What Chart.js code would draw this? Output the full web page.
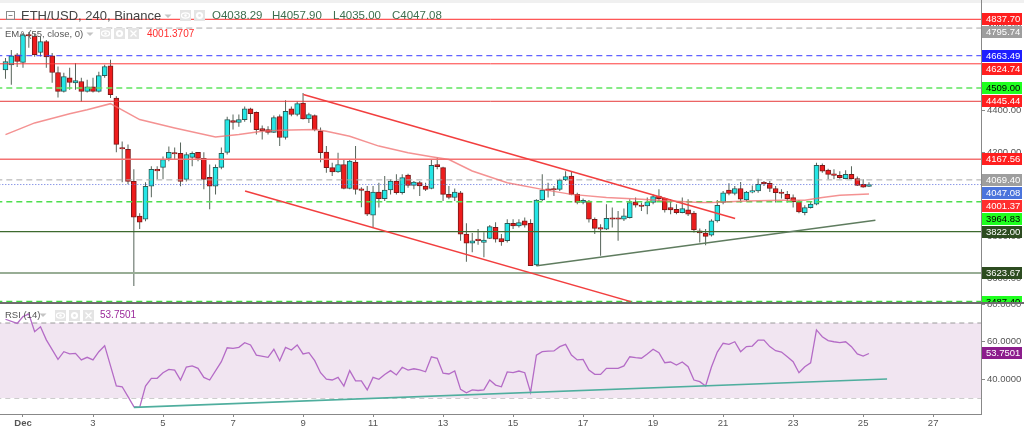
<!DOCTYPE html>
<html>
<head>
<meta charset="utf-8">
<script src="https://cdn.jsdelivr.net/npm/chart.js@4.4.1/dist/chart.umd.min.js"></script>
<style>
  html, body { margin: 0; padding: 0; background: #fff; overflow: hidden; }
  #wrap { width: 1024px; height: 429px; }
  canvas { display: block; }
</style>
</head>
<body>
<div id="wrap">
  <canvas id="main" width="1024" height="302"></canvas>
  <canvas id="rsi" width="1024" height="127"></canvas>
</div>
<script>
// ETH/USD 4h candles, bar 0 = Dec 1 00:00, first bar = Nov 30 12:00
const firstBar = -3;
const opens = [4596,4620,4668,4631,4763,4758,4679,4731,4663,4583,
  4493,4558,4533,4540,4493,4515,4493,4568,4615,4461,
  4224,4215,4062,3896,3881,4039,4120,4129,4172,4198,
  4196,4072,4177,4201,4172,4081,4039,4129,4201,4353,
  4344,4358,4409,4393,4315,4310,4297,4372,4272,4409,
  4382,4437,4361,4377,4302,4202,4128,4107,4143,4028,
  4154,4022,4016,3900,4011,3980,4021,4064,4008,4092,
  4043,4056,4040,4028,4143,4128,4000,3985,4008,3810,
  3767,3786,3770,3789,3842,3789,3778,3862,3849,3873,
  3862,3662,3973,4024,4024,4024,4069,4088,4000,3961,
  3968,3881,3838,3834,3885,3885,3881,3889,3964,3949,
  3945,3961,3992,3981,3937,3929,3913,3926,3910,3825,
  3815,3805,3873,3961,4021,4005,4028,3973,4011,4016,
  4056,4053,4028,4011,4000,3985,3964,3913,3937,3953,
  4139,4116,4096,4091,4075,4096,4075,4048,4038.29];
const highs = [4653,4691,4677,4772,4777,4768,4755,4739,4677,4612,
  4582,4606,4629,4558,4548,4558,4587,4620,4644,4469,
  4253,4239,4120,3910,4058,4134,4134,4181,4229,4224,
  4248,4201,4205,4202,4201,4143,4143,4224,4372,4382,
  4382,4421,4415,4397,4329,4326,4377,4382,4450,4421,
  4445,4485,4390,4382,4320,4231,4151,4199,4167,4167,
  4231,4034,4040,4040,4056,4088,4072,4096,4096,4099,
  4064,4064,4056,4167,4175,4132,4040,4028,4016,3862,
  3815,3834,3819,3853,3867,3810,3881,3881,3881,3889,
  3881,3977,4096,4056,4040,4075,4111,4111,4008,3980,
  3973,3889,3857,3953,3937,3921,3932,3977,3985,3961,
  3985,4000,4024,3985,3977,3953,3985,3977,3921,3837,
  3834,3881,3973,4016,4053,4040,4059,4016,4043,4075,
  4064,4064,4040,4024,4016,4000,3973,3948,3968,4151,
  4148,4123,4120,4111,4116,4135,4085,4072,4057.90];
const lows = [4553,4525,4610,4606,4701,4658,4660,4606,4534,4463,
  4487,4501,4501,4445,4487,4487,4487,4558,4461,4201,
  4058,4048,3562,3834,3872,3986,4072,4072,4158,4167,
  4039,4062,4134,4158,4024,3929,4000,4120,4191,4310,
  4324,4348,4344,4286,4263,4286,4294,4231,4263,4374,
  4374,4358,4342,4302,4154,4104,4088,4104,4024,4024,
  4000,3938,3897,3842,3937,3968,4000,4000,4000,4032,
  4024,3992,4016,4024,4120,3968,3977,3968,3778,3678,
  3723,3759,3699,3786,3770,3754,3770,3834,3842,3842,
  3657,3656,3968,3985,3992,4016,4064,3996,3953,3953,
  3865,3810,3706,3830,3842,3778,3873,3885,3937,3921,
  3905,3953,3968,3913,3905,3905,3910,3897,3818,3770,
  3757,3799,3865,3953,3996,3996,3961,3968,4005,4008,
  4040,4011,3961,3980,3961,3937,3910,3900,3932,3948,
  4104,4072,4072,4075,4072,4072,4040,4032,4035.00];
const closes = [4636,4663,4636,4763,4758,4668,4731,4658,4583,4493,
  4564,4536,4545,4493,4514,4493,4568,4612,4477,4239,
  4217,4062,3891,3867,4039,4120,4112,4167,4201,4193,
  4062,4191,4196,4172,4072,4039,4129,4196,4358,4344,
  4358,4409,4386,4310,4305,4297,4367,4272,4397,4382,
  4434,4361,4382,4310,4199,4128,4107,4143,4028,4159,
  4024,4019,3905,4011,3980,4021,4064,4008,4080,4043,
  4059,4040,4024,4139,4132,4000,3985,4011,3810,3767,
  3778,3778,3781,3846,3786,3773,3862,3849,3865,3853,
  3659,3973,4021,4019,4021,4069,4085,4000,3961,3972,
  3881,3837,3834,3885,3881,3881,3897,3961,3948,3942,
  3964,3989,3980,3926,3926,3913,3932,3905,3830,3815,
  3799,3873,3948,4008,4005,4028,3977,4011,4016,4048,
  4051,4028,4008,4004,3980,3964,3916,3937,3953,4139,
  4111,4096,4091,4080,4096,4075,4043,4035,4047.08];

// EMA (55, close)
const emaBars = [-3,2,8,11,15,20,26,33,37,41,44,50,52,56,61,66,70,73,77,83,89,94,100,106,111,116,118,124,130,134,137,140,145];
const emaValues = [4286,4342,4386,4405,4434,4358,4318,4275,4286,4302,4307,4310,4302,4278,4231,4199,4180,4167,4112,4056,4024,4000,3985,3977,3968,3961,3961,3968,3972,3972,3985,3996,4001.37];

// RSI (14)
const rsiBars = [-3,-1,0,1,2,3,4,6,7,8,9,10,11,12,13,14,16,17,18,19,20,21,22,23,24,25,26,27,28,29,30,31,32,
  34,35,36,37,38,39,40,42,43,44,45,46,47,48,49,50,51,52,53,54,55,56,57,58,59,60,61,62,63,64,65,66,67,68,69,70,
  71,72,73,74,75,76,77,78,79,80,81,82,83,84,85,86,87,88,89,90,91,92,93,94,95,96,97,98,99,100,101,102,103,104,
  105,106,107,108,109,110,111,112,113,114,115,116,117,118,119,120,121,122,123,124,125,126,127,128,129,130,131,
  132,133,134,135,136,137,138,139,140,141,142,143,144,145];
const rsiValues = [72.0,69.8,73.4,74.8,65.4,68.0,61.0,50.6,54.7,53.5,53.8,50.3,51.7,50.3,54.7,57.9,36.4,36.0,30.7,25.4,25.0,
  36.4,40.5,40.5,43.5,45.3,44.9,39.6,46.5,47.1,45.8,41.0,39.6,
  49.4,56.8,56.5,57.0,59.5,58.3,52.9,51.7,56.0,49.9,57.0,55.6,58.3,53.5,54.2,49.9,43.5,40.0,39.6,41.0,36.4,44.6,
  39.1,39.1,34.3,41.0,40.0,42.5,44.6,42.3,46.4,44.9,45.6,45.0,44.0,52.0,51.2,43.2,42.8,44.4,34.6,32.8,34.3,34.0,
  34.3,39.6,36.9,36.0,43.9,43.5,44.4,43.5,33.0,52.9,54.7,55.0,55.1,57.4,58.6,52.9,50.3,50.6,44.9,42.6,42.6,45.8,
  45.8,45.8,47.1,52.0,51.5,51.2,53.5,56.0,54.2,48.8,49.2,47.6,49.2,46.7,39.6,38.7,36.4,46.5,54.5,59.2,58.6,60.0,
  54.7,57.4,57.7,60.9,60.9,57.4,55.2,54.5,52.0,49.4,43.5,46.7,48.8,66.3,62.7,60.6,60.0,59.5,60.0,57.4,53.5,52.4,53.7501];
const rsiBands = [70, 30];

// horizontal levels drawn on the chart
const levelPrices = [4837.70, 4795.74, 4663.49, 4624.74, 4509.00, 4445.44, 4167.56, 4069.40, 3964.83, 3822.00, 3623.67, 3487.40];
const lastPrice = 4047.08;
const emaLast = 4001.37;
const emaLegend = '4001.3707';
const rsiLast = 53.7501;

// trend lines (bar index, price)
const channelTopBars = [48.05, 122.06], channelTopPrices = [4478, 3885];
const channelLowBars = [38.06, 104.2], channelLowPrices = [4016, 3487];
const supportBars = [88.07, 146.1], supportPrices = [3659, 3876];
const rsiTrendBars = [19, 148.1], rsiTrendValues = [25.0, 40.1];

// axes
const dayTickBars = [0,12,24,36,48,60,72,84,96,108,120,132,144,156];
const dayTickLabels = ['Dec','3','5','7','9','11','13','15','17','19','21','23','25','27'];
const priceTicks = [3600, 3800, 4000, 4200, 4400, 4600, 4800];
const rsiTicks = [40, 60, 80];

// ---- styles ----
const fam = "'Liberation Sans', Arial, sans-serif";
Chart.defaults.font.family = fam;
const xMin = -3.94, xMax = 164.2;
const upFill = '#25e6e6', upEdge = '#2c5a55', downFill = '#ee1c1c', downEdge = '#7a1818', wickColor = '#56645a';
const levelColors = ['#ff2b2b','#a8a8a8','#3d3dff','#ff3b3b','#5fe65f','#e63a3a','#f47272','#a8a8a8','#4ede4e','#3d6a2e','#98ad95','#3ddb3d'];
const levelDash = [[],[6,4],[6,4],[],[6,4],[],[],[6,4],[6,4],[],[],[6,4]];
const levelWidth = [1,1,1,1,1.5,1,1.5,1,1.5,1.2,2,1.5];
const tagBg = ['#ff1f1f','#9e9e9e','#1f1fff','#ff1f1f','#1fff1f','#ff1f1f','#ff1f1f','#9e9e9e','#1fff1f','#2d4c20','#2d4c20','#1fff1f'];
const tagFg = ['#fff','#fff','#fff','#fff','#000','#fff','#fff','#fff','#000','#fff','#fff','#000'];

const bars = opens.map((_, k) => firstBar + k);
const up = k => closes[k] >= opens[k];

function lineSet(xs, ys, color, width, dash, order) {
  return {
    type: 'line', data: xs.map((x, k) => ({ x: x, y: ys[k] })),
    borderColor: color, borderWidth: width, borderDash: dash || [],
    pointRadius: 0, fill: false, tension: 0, order: order || 1
  };
}

function caret(c, x, y) {
  c.fillStyle = '#c4c4c4';
  c.beginPath(); c.moveTo(x - 3.5, y - 1.5); c.lineTo(x + 3.5, y - 1.5); c.lineTo(x, y + 2); c.closePath(); c.fill();
}
function iconBox(c, x, y, kind) {
  c.fillStyle = '#e4e4e4'; c.fillRect(x, y, 11, 11);
  c.strokeStyle = '#fff'; c.fillStyle = '#fff'; c.lineWidth = 1.3;
  if (kind === 'eye') {
    c.beginPath(); c.ellipse(x + 5.5, y + 5.5, 4, 2.6, 0, 0, Math.PI * 2); c.stroke();
    c.beginPath(); c.arc(x + 5.5, y + 5.5, 1.3, 0, Math.PI * 2); c.fill();
  } else if (kind === 'gear') {
    c.beginPath(); c.arc(x + 5.5, y + 5.5, 3.6, 0, Math.PI * 2); c.fill();
    c.fillStyle = '#e4e4e4'; c.beginPath(); c.arc(x + 5.5, y + 5.5, 1.4, 0, Math.PI * 2); c.fill();
  } else {
    c.beginPath(); c.moveTo(x + 2.5, y + 2.5); c.lineTo(x + 8.5, y + 8.5); c.moveTo(x + 8.5, y + 2.5); c.lineTo(x + 2.5, y + 8.5); c.stroke();
  }
}
function drawTags(c, tags, x0) {
  tags.sort((a, b) => a.y - b.y);
  let prev = -1e9;
  tags.forEach(t => { if (t.y < prev + 13) t.y = prev + 13; prev = t.y; });
  c.font = '9.5px ' + fam; c.textBaseline = 'middle'; c.textAlign = 'left';
  tags.forEach(t => {
    c.fillStyle = t.bg; c.fillRect(x0 + 1, Math.round(t.y) - 6, 40, 12);
    c.fillStyle = t.fg; c.fillText(t.text, x0 + 5, Math.round(t.y) + 0.5);
  });
}

const mainOverlay = {
  id: 'mainOverlay',
  beforeDraw(chart) {
    const c = chart.ctx;
    c.save(); c.fillStyle = '#fff'; c.fillRect(0, 0, chart.width, chart.height);
    c.fillStyle = '#f0f0f0'; c.fillRect(0, 0, chart.width, 3); c.restore();
  },
  afterDraw(chart) {
    const c = chart.ctx, ys = chart.scales.y, right = chart.chartArea.right;
    c.save();
    const tags = levelPrices.map((v, k) => ({ y: ys.getPixelForValue(v), text: v.toFixed(2), bg: tagBg[k], fg: tagFg[k] }));
    tags.push({ y: ys.getPixelForValue(lastPrice), text: lastPrice.toFixed(2), bg: '#4a74dc', fg: '#fff' });
    tags.push({ y: ys.getPixelForValue(emaLast), text: emaLast.toFixed(2), bg: '#ff2e2e', fg: '#fff' });
    drawTags(c, tags, right);

    // header row 1
    c.strokeStyle = '#8a8a8a'; c.lineWidth = 1;
    c.strokeRect(6.5, 11.5, 8, 8);
    c.beginPath(); c.moveTo(8.5, 15.5); c.lineTo(12.5, 15.5); c.stroke();
    c.textBaseline = 'middle'; c.textAlign = 'left';
    c.font = '13px ' + fam; c.fillStyle = '#444';
    c.fillText('ETH/USD, 240, Binance', 21, 16);
    caret(c, 168, 16);
    iconBox(c, 180, 10, 'eye'); iconBox(c, 194, 10, 'gear');
    c.font = '11.5px ' + fam; c.fillStyle = '#3d6e4e';
    c.fillText('O' + opens[opens.length - 1].toFixed(2), 212, 16);
    c.fillText('H' + highs[highs.length - 1].toFixed(2), 272, 16);
    c.fillText('L' + lows[lows.length - 1].toFixed(2), 333, 16);
    c.fillText('C' + closes[closes.length - 1].toFixed(2), 392, 16);

    // header row 2
    c.font = '9.5px ' + fam; c.fillStyle = '#555';
    c.fillText('EMA (55, close, 0)', 5, 34);
    caret(c, 90, 34);
    iconBox(c, 100, 28, 'eye'); iconBox(c, 114, 28, 'gear'); iconBox(c, 128, 28, 'x');
    c.fillStyle = '#ff2d2d'; c.font = '10px ' + fam;
    c.fillText(emaLegend, 147, 34);
    c.restore();
  }
};

const rsiOverlay = {
  id: 'rsiOverlay',
  beforeDraw(chart) {
    const c = chart.ctx;
    c.save(); c.fillStyle = '#fff'; c.fillRect(0, 0, chart.width, chart.height); c.restore();
  },
  afterDraw(chart) {
    const c = chart.ctx, ys = chart.scales.y, right = chart.chartArea.right;
    c.save();
    drawTags(c, [{ y: ys.getPixelForValue(rsiLast), text: rsiLast.toFixed(4), bg: '#8c1d8c', fg: '#fff' }], right);
    c.fillStyle = '#6e6e6e'; c.fillRect(0, 0, chart.width, 2);
    c.textBaseline = 'middle'; c.textAlign = 'left';
    c.font = '9.5px ' + fam; c.fillStyle = '#555';
    c.fillText('RSI (14)', 5, 13);
    caret(c, 43, 13);
    iconBox(c, 55, 8, 'eye'); iconBox(c, 69, 8, 'gear'); iconBox(c, 83, 8, 'x');
    c.fillStyle = '#9b2a9b'; c.font = '10px ' + fam;
    c.fillText(rsiLast.toFixed(4), 100, 13);
    c.restore();
  }
};

function rightAxis(min, max, ticks, digits) {
  return {
    type: 'linear', position: 'right', min: min, max: max, bounds: 'data', beginAtZero: false,
    afterBuildTicks: s => { s.ticks = ticks.map(v => ({ value: v })); },
    afterFit: s => { s.width = 43; s.paddingTop = 0; s.paddingBottom = 0; },
    ticks: { callback: v => Number(v).toFixed(digits), color: '#555', font: { size: 9.5 }, padding: 2, autoSkip: false },
    grid: { drawOnChartArea: false, tickLength: 4, color: '#888' },
    border: { display: true, color: '#888' }
  };
}

// main price pane
const mainSets = [
  { type: 'bar', data: bars.map((b, k) => ({ x: b, y: [lows[k], highs[k]] })),
    backgroundColor: wickColor, barThickness: 1, grouped: false, inflateAmount: 0, order: 6 },
  { type: 'bar', data: bars.map((b, k) => ({ x: b, y: [opens[k], closes[k]] })),
    backgroundColor: bars.map((b, k) => up(k) ? upFill : downFill),
    borderColor: bars.map((b, k) => up(k) ? upEdge : downEdge),
    borderWidth: 1, borderSkipped: false, barThickness: 5, grouped: false, minBarLength: 1.5, order: 5 }
];
levelPrices.forEach((v, k) => mainSets.push(lineSet([-20, 200], [v, v], levelColors[k], levelWidth[k], levelDash[k], 2)));
mainSets.push(lineSet([-20, 200], [lastPrice, lastPrice], '#5a6edc', 1, [1, 2], 2));
mainSets.push(lineSet(emaBars, emaValues, 'rgba(240,110,110,0.75)', 1.5, [], 1));
mainSets.push(lineSet(channelTopBars, channelTopPrices, '#f23f3f', 1.5, [], 1));
mainSets.push(lineSet(channelLowBars, channelLowPrices, '#f23f3f', 1.5, [], 1));
mainSets.push(lineSet(supportBars, supportPrices, '#5f7c5f', 1.5, [], 1));

new Chart(document.getElementById('main'), {
  type: 'bar',
  data: { datasets: mainSets },
  options: {
    responsive: false, animation: false, devicePixelRatio: 1,
    layout: { padding: 0 },
    plugins: { legend: { display: false }, tooltip: { enabled: false } },
    scales: {
      x: { type: 'linear', min: xMin, max: xMax, bounds: 'data', offset: false, display: false },
      y: rightAxis(3485.07, 4930.05, priceTicks, 2)
    }
  },
  plugins: [mainOverlay]
});

// RSI pane
const rsiSets = [
  Object.assign(lineSet([-20, 200], [rsiBands[0], rsiBands[0]], '#9a9a9a', 1, [5, 4], 3), { fill: '+1', backgroundColor: '#f1e5f1' }),
  lineSet([-20, 200], [rsiBands[1], rsiBands[1]], '#9a9a9a', 1, [5, 4], 3),
  lineSet(rsiBars, rsiValues, '#b46bc6', 1.3, [], 2),
  lineSet(rsiTrendBars, rsiTrendValues, '#4fae9e', 1.6, [], 1)
];

new Chart(document.getElementById('rsi'), {
  type: 'line',
  data: { datasets: rsiSets },
  options: {
    responsive: false, animation: false, devicePixelRatio: 1,
    layout: { padding: 0 },
    plugins: { legend: { display: false }, tooltip: { enabled: false } },
    scales: {
      x: {
        type: 'linear', position: 'bottom', min: xMin, max: xMax, bounds: 'data', offset: false,
        afterBuildTicks: s => { s.ticks = dayTickBars.map(v => ({ value: v })); },
        afterFit: s => { s.height = 15; s.paddingLeft = 0; s.paddingRight = 0; },
        ticks: {
          callback: (v, i) => dayTickLabels[i], autoSkip: false, maxRotation: 0, padding: 1, color: '#555',
          font: c => c.index === 0 ? { size: 9.5, weight: 'bold' } : { size: 9.5 }
        },
        grid: { drawOnChartArea: false, tickLength: 3, color: '#888' },
        border: { display: true, color: '#888' }
      },
      y: rightAxis(21.47, 81.2, rsiTicks, 4)
    }
  },
  plugins: [rsiOverlay]
});
</script>
</body>
</html>
